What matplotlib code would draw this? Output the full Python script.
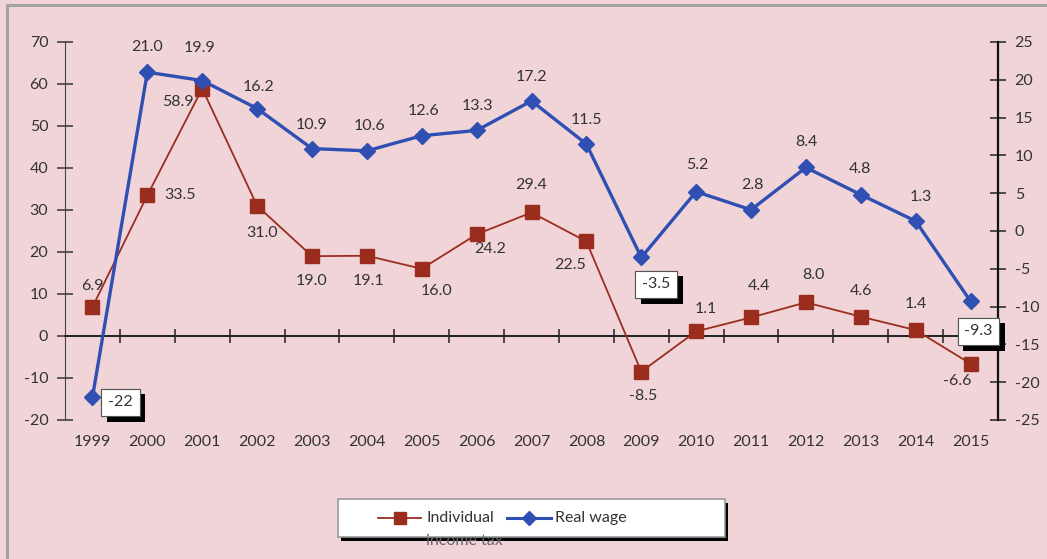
import matplotlib
matplotlib.use("Agg")
import matplotlib.pyplot as plt
import matplotlib.patheffects as pe
from matplotlib.patches import Rectangle
from matplotlib.lines import Line2D
from matplotlib.transforms import blended_transform_factory

years = [str(y) for y in range(1999, 2016)]
income_tax = [6.9, 33.5, 58.9, 31.0, 19.0, 19.1, 16.0, 24.2, 29.4, 22.5, -8.5, 1.1, 4.4, 8.0, 4.6, 1.4, -6.6]
real_wage = [-22, 21.0, 19.9, 16.2, 10.9, 10.6, 12.6, 13.3, 17.2, 11.5, -3.5, 5.2, 2.8, 8.4, 4.8, 1.3, -9.3]
wage_text = ["-22", "21.0", "19.9", "16.2", "10.9", "10.6", "12.6", "13.3", "17.2", "11.5",
             "-3.5", "5.2", "2.8", "8.4", "4.8", "1.3", "-9.3"]

# label offsets in pixels (dx, dy up)
tax_off = [(0, 21), (33, 0), (-24, -13), (5, -27), (0, -25), (2, -25), (15, -22), (14, -15),
           (0, 27), (-16, -24), (2, -24), (10, 22), (8, 31), (8, 27), (0, 26), (0, 26), (-13, -17)]
wage_off = [(28, -5), (0, 25), (-3, 33), (1, 22), (0, 24), (3, 25), (2, 25), (1, 24), (0, 24),
            (0, 24), (15, -27), (1, 27), (1, 25), (1, 25), (-1, 26), (5, 24), (8, -30)]
boxed = {0, 10, 16}

BG = "#f0d4d8"
RED = "#9b2d1f"
BLUE = "#2f4fb3"
TXT = "#333333"
FS = 11.5

plt.rcParams['font.family'] = ['Lato', 'DejaVu Sans']
plt.rcParams['axes.unicode_minus'] = False

fig = plt.figure(figsize=(10.47, 5.59), dpi=100, facecolor=BG)
fig.patches.append(Rectangle((7 / 1047, -0.1), 1.2, 1 - 5 / 559 + 0.1, transform=fig.transFigure,
                             fill=False, edgecolor="#a3a3a3", linewidth=2.2))

ax = fig.add_axes([0.0621, 0.2487, 0.8911, 0.6762])
ax.set_facecolor("none")
ax2 = ax.twinx()

x = list(range(len(years)))
ax.plot(x, income_tax, color=RED, lw=1.3, marker="s", markersize=10, zorder=3)
ax2.plot(x, real_wage, color=BLUE, lw=2.4, marker="D", markersize=8, zorder=3)

ax.set_xlim(-0.5, len(years) - 0.5)
ax.set_ylim(-20, 70)
ax2.set_ylim(-25, 25)
ax.set_yticks(range(-20, 71, 10))
ax2.set_yticks(range(-25, 26, 5))

for s in ["top", "right"]:
    ax.spines[s].set_visible(False)
for s in ["top", "left"]:
    ax2.spines[s].set_visible(False)
ax2.spines["bottom"].set_visible(False)
ax.spines["bottom"].set_position(("data", 0))
ax.spines["left"].set_color("#444444")
ax2.spines["right"].set_color("#111111")
ax2.spines["right"].set_linewidth(1.6)
ax.spines["bottom"].set_color("#222222")
ax.spines["bottom"].set_linewidth(1.4)

ax.set_xticks([i + 0.5 for i in range(len(years) - 1)])
ax.set_xticklabels([])
ax.tick_params(axis="x", direction="inout", length=10, width=1.1, color="#222222")
ax.tick_params(axis="y", direction="inout", length=12, width=1.1, color="#333333",
               labelsize=FS, labelcolor=TXT, pad=6)
ax2.tick_params(axis="y", direction="inout", length=12, width=1.1, color="#222222",
                labelsize=FS, labelcolor=TXT, pad=6)

tr = blended_transform_factory(ax.transData, ax.transAxes)
for i, y in enumerate(years):
    ax.text(i, -0.058, y, transform=tr, ha="center", va="center", fontsize=FS, color=TXT)

for i, v in enumerate(income_tax):
    ax.annotate(f"{v:.1f}", (i, v), xytext=tax_off[i], textcoords="offset pixels",
                ha="center", va="center", fontsize=FS, color=TXT, zorder=5)

for i, v in enumerate(real_wage):
    if i in boxed:
        t = ax2.annotate(wage_text[i], (i, v), xytext=wage_off[i], textcoords="offset pixels",
                         ha="center", va="center", fontsize=FS, color=TXT, zorder=6,
                         bbox=dict(boxstyle="square,pad=0.42", facecolor="white",
                                   edgecolor="#555555", linewidth=0.8))
        t.get_bbox_patch().set_path_effects([pe.withSimplePatchShadow(offset=(4, -4),
                                             shadow_rgbFace="black", alpha=1), pe.Normal()])
    else:
        ax2.annotate(wage_text[i], (i, v), xytext=wage_off[i], textcoords="offset pixels",
                     ha="center", va="center", fontsize=FS, color=TXT, zorder=5)

# legend box
W, H = 1047, 559
def fx(px):
    return px / W
def fy(py):
    return 1 - py / H

fig.patches.append(Rectangle((fx(341), fy(541)), fx(387), 38 / H, transform=fig.transFigure,
                             facecolor="black", edgecolor="none", zorder=2))
fig.patches.append(Rectangle((fx(338), fy(537)), fx(387), 38 / H, transform=fig.transFigure,
                             facecolor="white", edgecolor="#999999", linewidth=1.2, zorder=3))
fig.lines.append(Line2D([fx(378), fx(421)], [fy(518), fy(518)], transform=fig.transFigure,
                        color=RED, lw=1.3, marker="", zorder=4))
fig.lines.append(Line2D([fx(400)], [fy(518)], transform=fig.transFigure, color=RED,
                        marker="s", markersize=9, zorder=5))
fig.lines.append(Line2D([fx(507), fx(551)], [fy(518), fy(518)], transform=fig.transFigure,
                        color=BLUE, lw=2.2, zorder=4))
fig.lines.append(Line2D([fx(529)], [fy(518)], transform=fig.transFigure, color=BLUE,
                        marker="D", markersize=7, zorder=5))
fig.text(fx(426), fy(518), "Individual", ha="left", va="center", fontsize=FS, color=TXT, zorder=6)
fig.text(fx(426), fy(541), "income tax", ha="left", va="center", fontsize=FS, color="#666666",
         zorder=6)
fig.text(fx(555), fy(518), "Real wage", ha="left", va="center", fontsize=FS, color=TXT, zorder=6)

fig.savefig("out.png", dpi=100, facecolor=BG)
